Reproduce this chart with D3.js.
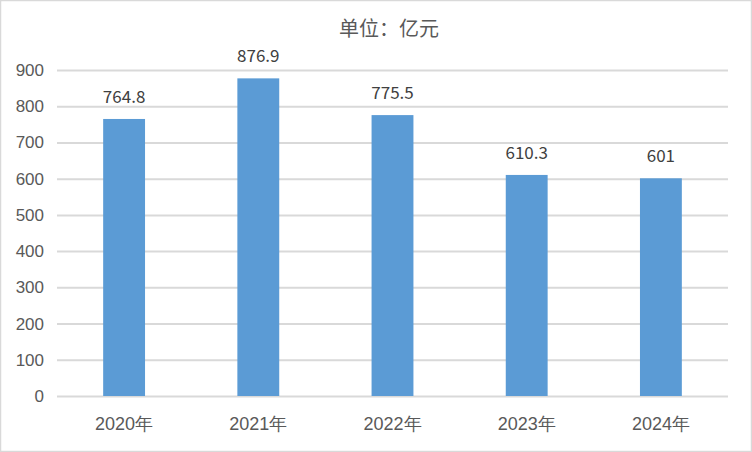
<!DOCTYPE html>
<html><head><meta charset="utf-8">
<script src="https://cdn.jsdelivr.net/npm/d3@7"></script>
<style>
html,body{margin:0;padding:0;background:#fff;}
svg{display:block;font-family:"Microsoft YaHei","Noto Sans CJK SC","Noto Sans",sans-serif;}
</style></head>
<body>
<svg id="chart" width="752" height="452"></svg>
<script>
const categories = ["2020年","2021年","2022年","2023年","2024年"];
const values = [764.8, 876.9, 775.5, 610.3, 601];
const valueLabels = ["764.8","876.9","775.5","610.3","601"];
const yTicks = [0,100,200,300,400,500,600,700,800,900];
const title = "单位：亿元";

(function(){
const svg = d3.select("#chart");
const W = 752, H = 452;
const mLeft = 57, mRight = 728, mTop = 70, mBottom = 396;

svg.append("rect").attr("x",0.5).attr("y",0.5).attr("width",W-1).attr("height",H-1)
  .attr("fill","#fff").attr("stroke","#d9d9d9").attr("stroke-width",1.5);

const x = d3.scaleBand().domain(categories).range([mLeft,mRight]).paddingInner(0.688).paddingOuter(0.344);
const y = d3.scaleLinear().domain([0,900]).range([mBottom,mTop]);

const yAxis = d3.axisLeft(y).tickValues(yTicks).tickSize(-(mRight-mLeft)).tickPadding(13).tickFormat(d3.format("d"));
const gy = svg.append("g").attr("transform",`translate(${mLeft},0)`).call(yAxis);
gy.select(".domain").remove();
gy.selectAll(".tick line").attr("stroke","#d9d9d9").attr("stroke-width",2);
gy.selectAll(".tick text").attr("fill","#595959").attr("font-size",17);

svg.append("g").selectAll("rect").data(values).join("rect")
  .attr("x",(d,i)=>x(categories[i]))
  .attr("width",x.bandwidth())
  .attr("y",d=>y(d))
  .attr("height",d=>y(0)-y(d))
  .attr("fill","#5b9bd5");

svg.append("g").selectAll("text").data(values).join("text")
  .attr("x",(d,i)=>x(categories[i])+x.bandwidth()/2)
  .attr("y",d=>y(d)-16)
  .attr("text-anchor","middle")
  .attr("fill","#404040")
  .attr("font-size",17)
  .text((d,i)=>valueLabels[i]);

const xAxis = d3.axisBottom(x).tickSize(0).tickPadding(21);
const gx = svg.append("g").attr("transform",`translate(0,${mBottom})`).call(xAxis);
gx.select(".domain").remove();
gx.selectAll(".tick text").attr("fill","#595959").attr("font-size",18);

svg.append("text").attr("x",389).attr("y",36).attr("text-anchor","middle")
  .attr("fill","#595959").attr("font-size",20).text(title);
})();
</script>
</body></html>
